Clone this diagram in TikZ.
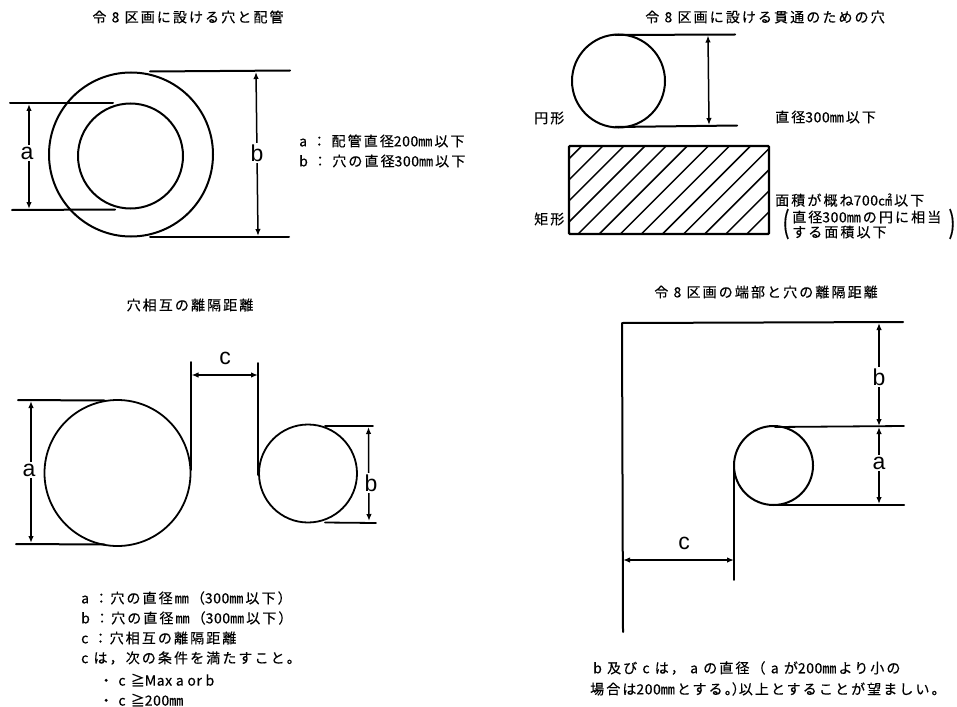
\documentclass[tikz,border=0pt]{standalone}
\usepackage{fontspec}
\usetikzlibrary{arrows.meta}
\setmainfont{Noto Sans CJK JP}[LetterSpace=15,FakeBold=0.35]
\newfontfamily\nlsf{Noto Sans CJK JP}[LetterSpace=4,FakeBold=0.35]
\newcommand{\nls}[1]{{\nlsf #1}}
\newfontfamily\lab{Liberation Sans}
\tikzset{
  txt/.style={anchor=west,inner sep=0pt,font=\fontsize{14}{14}\selectfont},
  ttl/.style={anchor=center,inner sep=0pt,font=\fontsize{14}{14}\selectfont},
  hole/.style={circle,draw,inner sep=0pt,line width=2pt},
  edgeline/.style={line width=2pt,line cap=round},
  thin edge/.style={line width=1.8pt,line cap=round},
  dim/.style={line width=1.5pt,{Latex[length=7pt,width=5.5pt]}-{Latex[length=7pt,width=5.5pt]}},
  dimlab/.style={fill=white,inner sep=2pt,font=\lab\fontsize{23}{23}\selectfont},
  hatchline/.style={line width=1.5pt}
}
\begin{document}
\begin{tikzpicture}[x=1pt,y=-1pt]
\useasboundingbox (0,0) rectangle (957,706);
\fill[white] (0,0) rectangle (957,706);

% ---- top left
\node[ttl] (t1) at (188,17) {令 8 区画に設ける穴と配管};
\node[hole,minimum size=164pt] (outer) at (131,154.5) {};
\node[hole,minimum size=105pt] (inner) at (130.5,156) {};
\coordinate (a1t) at (10,103); \coordinate (a1te) at (113,103);
\coordinate (a1b) at (12,210); \coordinate (a1be) at (115,209.5);
\coordinate (b1t) at (150,71.5); \coordinate (b1te) at (290,70.5);
\coordinate (b1b) at (150,237); \coordinate (b1be) at (289,237);
\draw[edgeline] (a1t) -- (a1te);
\draw[edgeline] (a1b) -- (a1be);
\draw[edgeline] (b1t) -- (b1te);
\draw[edgeline] (b1b) -- (b1be);
\coordinate (a1u) at (29,104); \coordinate (a1d) at (29,209);
\coordinate (b1u) at (256,72); \coordinate (b1d) at (258,236);
\draw[dim] (a1u) -- (a1d);
\draw[dim] (b1u) -- (b1d);
\node[dimlab] (la1) at (27,153) {a};
\node[dimlab] (lb1) at (257,153) {b};
\node[txt] (n1) at (299,141) {\nls{a} ： 配管直径\nls{200}㎜以下};
\node[txt] (n2) at (299,161) {\nls{b} ： 穴の直径\nls{300}㎜以下};

% ---- top right
\node[ttl] (t2) at (765,17) {令 8 区画に設ける貫通のための穴};
\node[hole,minimum size=93pt] (hole2) at (618.5,81) {};
\coordinate (c2t) at (615,35); \coordinate (c2te) at (735,34.5);
\coordinate (c2b) at (615,127); \coordinate (c2be) at (737,125.5);
\draw[edgeline] (c2t) -- (c2te);
\draw[edgeline] (c2b) -- (c2be);
\coordinate (d2u) at (708,35.5); \coordinate (d2d) at (709,125);
\draw[dim] (d2u) -- (d2d);
\node[txt] (en) at (534,118) {円形};
\node[txt] (dia) at (775,117) {直径\nls{300}㎜以下};
\begin{scope}
  \clip (569,146) rectangle (769,234);
  \foreach \k in {0,...,12}
    \draw[hatchline] ({581.7+21.1*\k-88},234) -- ({581.7+21.1*\k},146);
\end{scope}
\node[draw,line width=2.2pt,rounded corners=1pt,minimum width=200pt,minimum height=88pt,inner sep=0pt] (rect) at (669,190) {};
\node[txt] (kei) at (534,219) {矩形};
\node[txt] (m1) at (775,200) {面積が概ね\nls{700}㎠以下};
\node[txt] (m2) at (792,217) {直径\nls{300}㎜の円に相当};
\node[txt] (m3) at (792,232) {する面積以下};
\node[inner sep=0pt,font=\fontsize{30}{30}\selectfont,anchor=center,xscale=0.7] (pl) at (786,224) {(};
\node[inner sep=0pt,font=\fontsize{30}{30}\selectfont,anchor=center,xscale=0.7] (pr) at (952,224) {)};

% ---- bottom left
\node[ttl] (t3) at (190,305) {穴相互の離隔距離};
\node[hole,minimum size=146pt,line width=1.8pt] (ca) at (117.5,473) {};
\node[hole,minimum size=98pt,line width=1.8pt] (cb) at (308,473.5) {};
\coordinate (a3t) at (18,400); \coordinate (a3te) at (105,400.5);
\coordinate (a3b) at (16,544); \coordinate (a3be) at (105,544.5);
\coordinate (b3t) at (325,426); \coordinate (b3te) at (373,426);
\coordinate (b3b) at (325,522.5); \coordinate (b3be) at (376,523);
\coordinate (v1t) at (191,362); \coordinate (v1b) at (191,470);
\coordinate (v2t) at (258,363); \coordinate (v2b) at (258,475);
\draw[edgeline] (a3t) -- (a3te);
\draw[edgeline] (a3b) -- (a3be);
\draw[thin edge] (b3t) -- (b3te);
\draw[thin edge] (b3b) -- (b3be);
\draw[thin edge] (v1t) -- (v1b);
\draw[thin edge] (v2t) -- (v2b);
\coordinate (a3u) at (31,401); \coordinate (a3d) at (31,543);
\coordinate (b3u) at (368.5,427); \coordinate (b3d) at (369,521);
\coordinate (c3l) at (191.5,375); \coordinate (c3r) at (258,375);
\draw[dim] (a3u) -- (a3d);
\draw[dim] (b3u) -- (b3d);
\draw[dim] (c3l) -- (c3r);
\node[dimlab] (la3) at (29,470) {a};
\node[dimlab] (lb3) at (371,483) {b};
\node[dimlab,fill=none] (lc3) at (225,358) {c};
\node[txt] (p1) at (81,598) {\nls{a} ：穴の直径㎜（\nls{300}㎜以下）};
\node[txt] (p2) at (81,618) {\nls{b} ：穴の直径㎜（\nls{300}㎜以下）};
\node[txt] (p3) at (81,638) {\nls{c} ：穴相互の離隔距離};
\node[txt] (p4) at (81,658) {\nls{c} は，次の条件を満たすこと。};
\node[txt] (p5) at (99,680) {・ \nls{c} ≧\nls{Max a or b}};
\node[txt] (p6) at (99,700) {・ \nls{c} ≧\nls{200}㎜};

% ---- bottom right
\node[ttl] (t4) at (766,292) {令 8 区画の端部と穴の離隔距離};
\node[hole,minimum size=79pt] (cr) at (773.5,465.5) {};
\coordinate (lc) at (622,323); \coordinate (lr) at (903,322); \coordinate (ld) at (623,632);
\draw[edgeline,line join=round] (lr) -- (lc) -- (ld);
\coordinate (r1) at (775,427); \coordinate (r1e) at (904,426);
\coordinate (r2) at (775,505); \coordinate (r2e) at (904,505);
\coordinate (v3t) at (734,468); \coordinate (v3b) at (734,580);
\draw[thin edge] (r1) -- (r1e);
\draw[edgeline] (r2) -- (r2e);
\draw[thin edge] (v3t) -- (v3b);
\coordinate (bu) at (879,323); \coordinate (bd) at (879,426);
\coordinate (au) at (879,427); \coordinate (ad) at (879,504);
\coordinate (cl) at (623,560); \coordinate (cc) at (734,560);
\draw[dim] (bu) -- (bd);
\draw[dim] (au) -- (ad);
\draw[dim] (cl) -- (cc);
\node[dimlab] (lb4) at (879,377) {b};
\node[dimlab] (la4) at (879,463) {a};
\node[dimlab,fill=none] (lc4) at (684,543) {c};
\node[txt] (q1) at (593,668) {\nls{b} 及び \nls{c} は， \nls{a} の直径（ \nls{a} が\nls{200}㎜より小の};
\node[txt] (q2) at (590,689) {場合は\nls{200}㎜とする。\hspace{-7pt}）\hspace{-7pt}以上とすることが望ましい。};
\end{tikzpicture}
\end{document}
